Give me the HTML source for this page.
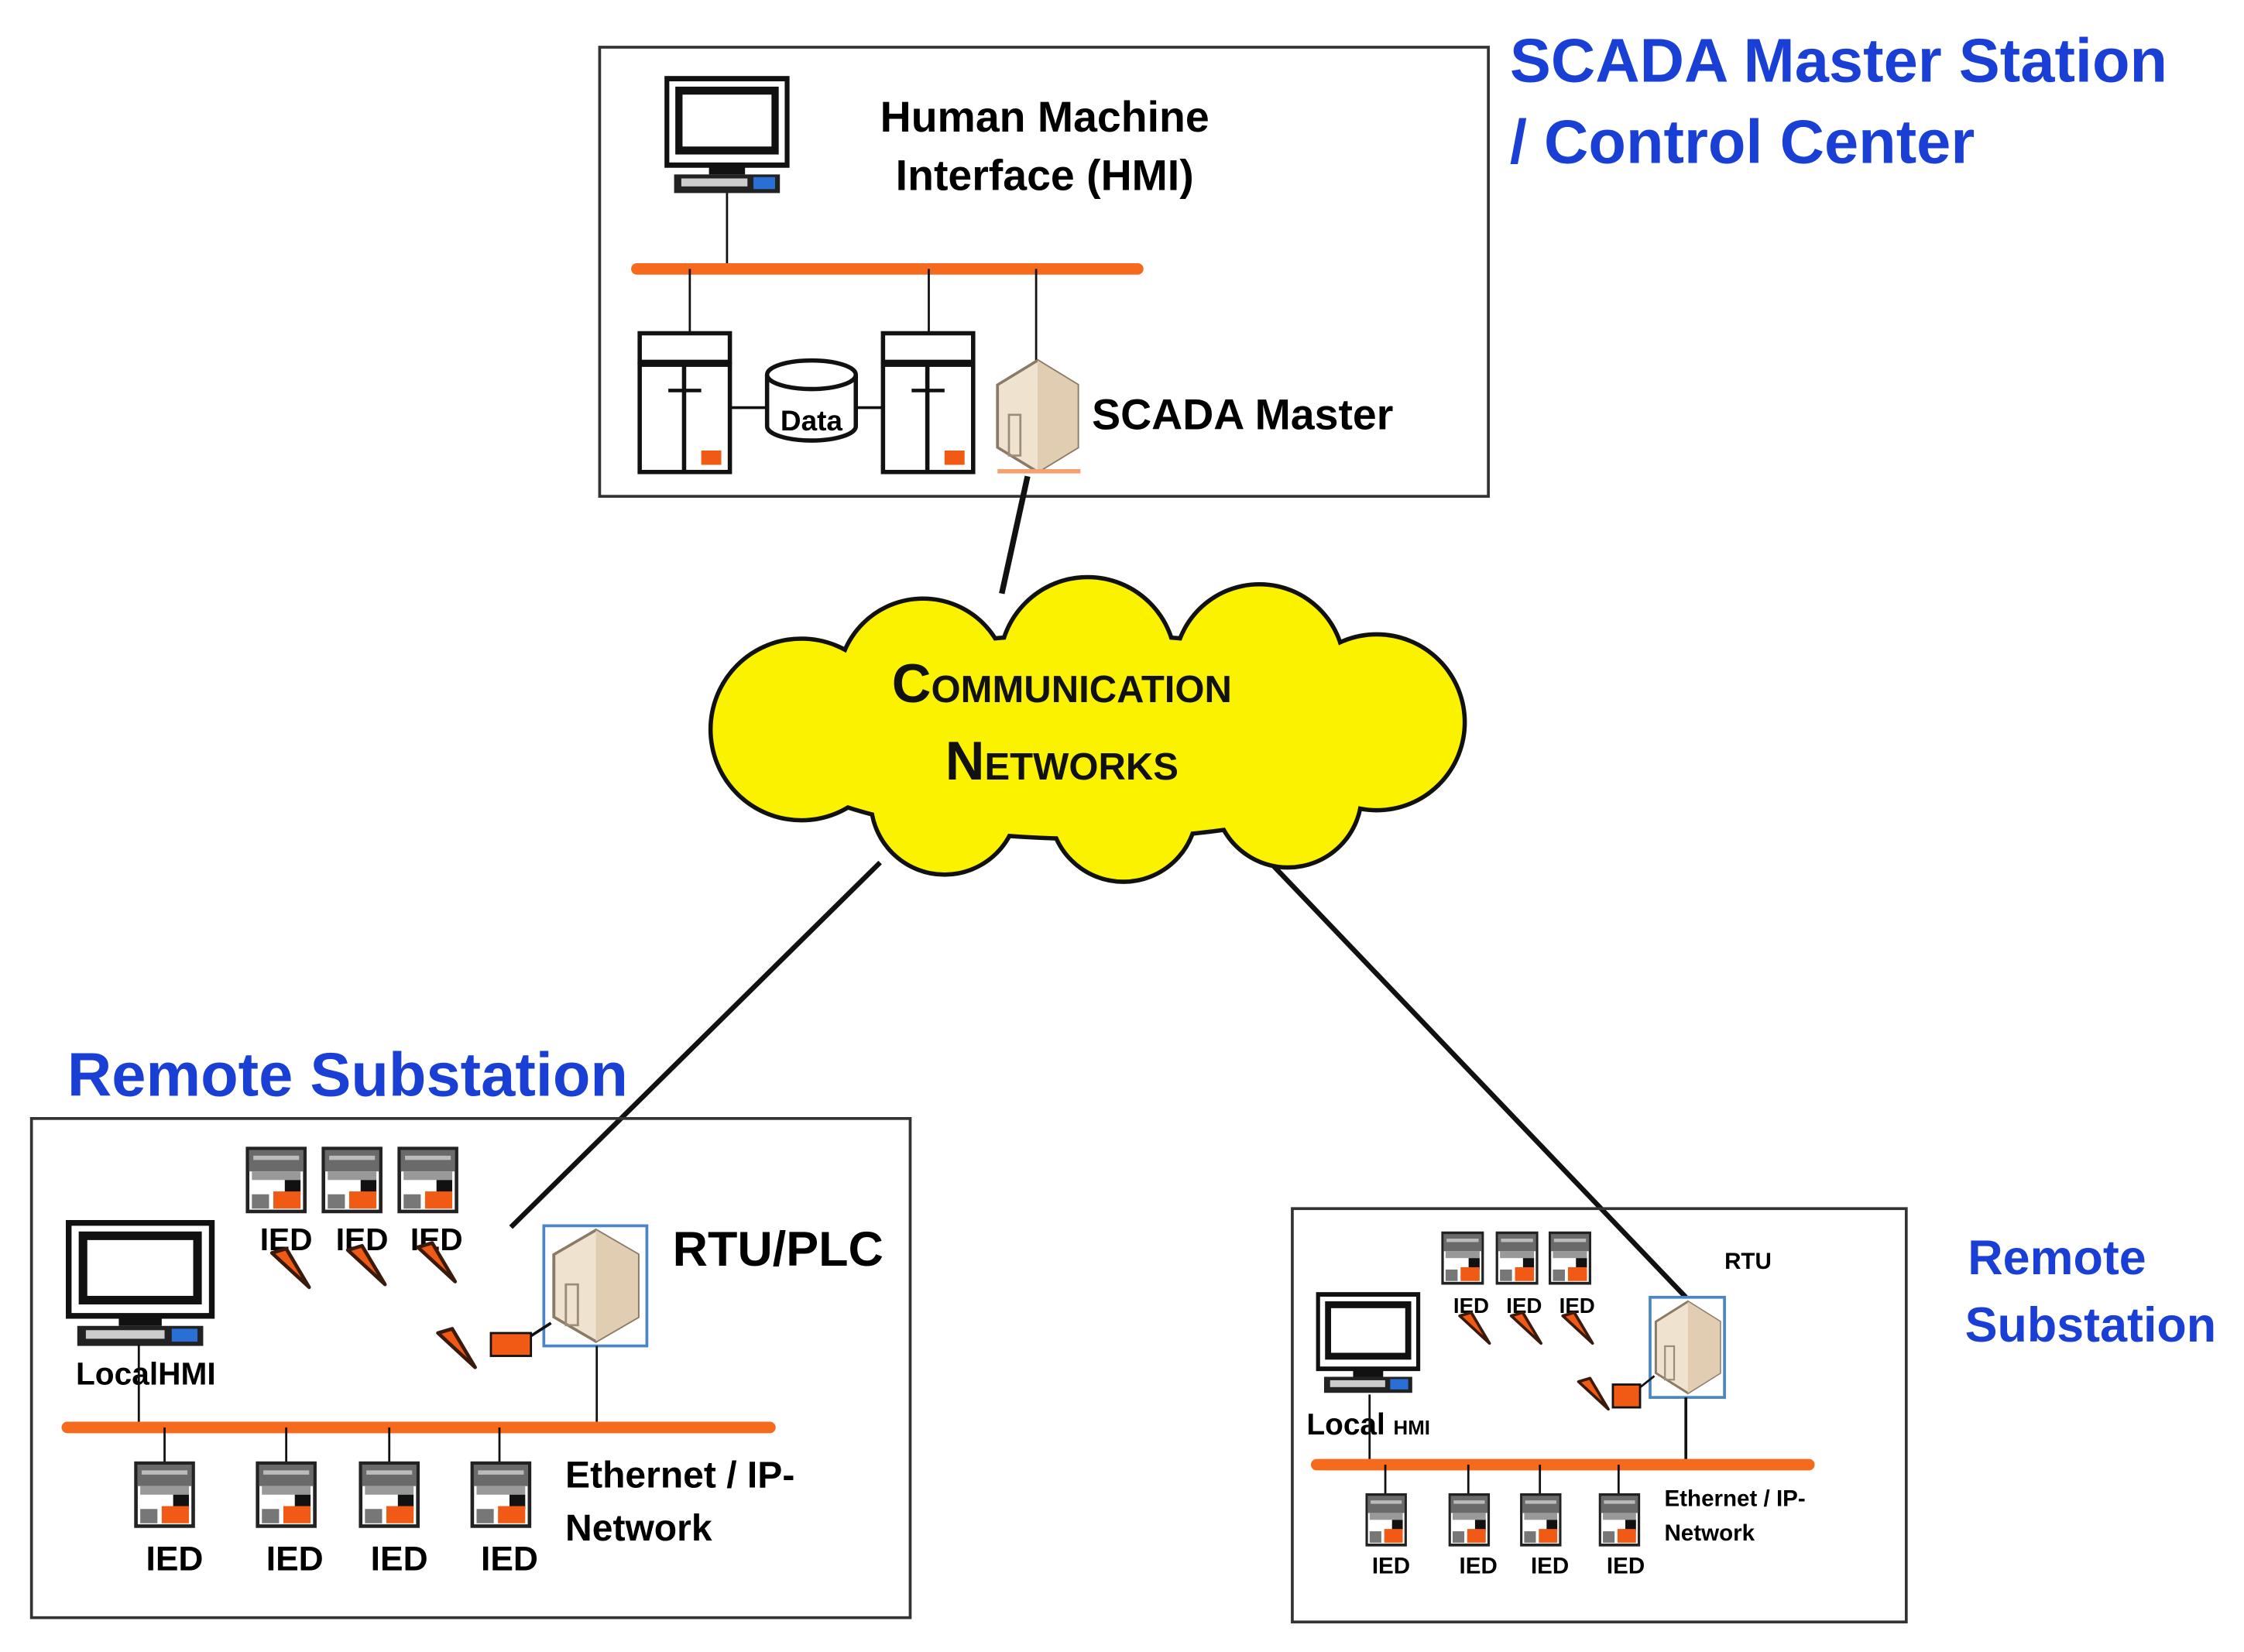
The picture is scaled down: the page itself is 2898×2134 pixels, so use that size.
<!DOCTYPE html>
<html><head><meta charset="utf-8"><style>
html,body{margin:0;padding:0;background:#fff;width:2898px;height:2134px;overflow:hidden}
svg{display:block}
text{font-family:"Liberation Sans",sans-serif;font-weight:bold}
</style></head><body>
<svg width="2898" height="2134" viewBox="0 0 1568 1155" preserveAspectRatio="none" xmlns="http://www.w3.org/2000/svg">
<defs>
 <g id="ied">
  <rect x="0" y="0" width="40" height="44" fill="#fff" stroke="#222" stroke-width="2.5"/>
  <rect x="1" y="1" width="38" height="15" fill="#6a6a6a"/>
  <rect x="4" y="5" width="32" height="3" fill="#bbb"/>
  <rect x="3" y="16" width="34" height="6" fill="#999"/>
  <rect x="26" y="22" width="11" height="10" fill="#111"/>
  <rect x="18" y="30" width="19" height="12" fill="#f05a14"/>
  <rect x="3" y="32" width="12" height="10" fill="#777"/>
 </g>
 <g id="mon">
  <rect x="0" y="0" width="100" height="65" fill="#fff" stroke="#111" stroke-width="4"/>
  <rect x="10" y="9" width="80" height="45" fill="#fff" stroke="#111" stroke-width="6"/>
  <rect x="35" y="65" width="30" height="7" fill="#111"/>
  <rect x="6" y="72" width="88" height="14" fill="#222"/>
  <rect x="12" y="75" width="55" height="6" fill="#ccc"/>
  <rect x="72" y="74" width="18" height="9" fill="#2a6fd6"/>
 </g>
 <g id="cube">
  <path d="M28 0 L56 18 L56 64 L28 82 L0 64 L0 18 Z" fill="#efe2cf" stroke="#8a7a66" stroke-width="2"/>
  <path d="M28 0 L56 18 L56 64 L28 82 Z" fill="#e0cdb2"/>
  <rect x="8" y="40" width="8" height="30" fill="none" stroke="#9c8c78" stroke-width="1.5"/>
 </g>
 <g id="bolt">
  <path d="M0 0 L10 -3 L26 24 Z" fill="#f05a14" stroke="#3a1a0a" stroke-width="2.5" stroke-linejoin="round"/>
 </g>
 <g id="server">
  <rect x="0" y="0" width="63" height="20" fill="#fff" stroke="#111" stroke-width="3"/>
  <rect x="0" y="22" width="63" height="75" fill="#fff" stroke="#111" stroke-width="3"/>
  <line x1="31" y1="22" x2="31" y2="97" stroke="#111" stroke-width="3"/>
  <line x1="20" y1="40" x2="43" y2="40" stroke="#111" stroke-width="2.5"/>
  <rect x="43" y="82" width="14" height="10" fill="#f05a14"/>
 </g>
</defs>

<rect x="419" y="33" width="621" height="314" fill="none" stroke="#333" stroke-width="2"/>
<text x="1055" y="57" font-size="43" fill="#1a3fd4">SCADA Master Station</text>
<text x="1055" y="114" font-size="43" fill="#1a3fd4">/ Control Center</text>
<g transform="translate(466,55) scale(0.84,0.93)"><use href="#mon"/></g>
<text x="730" y="92" font-size="30" text-anchor="middle">Human Machine</text>
<text x="730" y="133" font-size="30" text-anchor="middle">Interface (HMI)</text>
<line x1="508" y1="135" x2="508" y2="188" stroke="#111" stroke-width="1.5"/>
<line x1="445" y1="188" x2="795" y2="188" stroke="#f56a1c" stroke-width="8" stroke-linecap="round"/>
<line x1="482" y1="188" x2="482" y2="233" stroke="#111" stroke-width="1.5"/>
<line x1="649" y1="188" x2="649" y2="233" stroke="#111" stroke-width="1.5"/>
<line x1="724" y1="188" x2="724" y2="252" stroke="#111" stroke-width="1.5"/>
<g transform="translate(447,233)"><use href="#server"/></g>
<g transform="translate(617,233)"><use href="#server"/></g>
<line x1="510" y1="285" x2="536" y2="285" stroke="#111" stroke-width="2"/>
<line x1="597" y1="285" x2="617" y2="285" stroke="#111" stroke-width="2"/>
<path d="M536 262 L536 298 A31 10 0 0 0 598 298 L598 262" fill="#fff" stroke="#111" stroke-width="3"/>
<ellipse cx="567" cy="262" rx="31" ry="10" fill="#fff" stroke="#111" stroke-width="3"/>
<text x="567" y="301" font-size="20" text-anchor="middle">Data</text>
<g transform="translate(697,252) scale(1,0.95)"><use href="#cube"/></g>
<rect x="697" y="328" width="58" height="3" fill="#f5a070"/>
<text x="763" y="300" font-size="30">SCADA Master</text>

<line x1="718" y1="333" x2="700" y2="415" stroke="#111" stroke-width="4"/>
<line x1="615" y1="603" x2="357" y2="858" stroke="#111" stroke-width="3.5"/>
<line x1="878" y1="593" x2="1178" y2="907" stroke="#111" stroke-width="3.5"/>

<g stroke="#111" stroke-width="6" fill="#fbf200">
 <circle cx="560" cy="510" r="62"/><circle cx="645" cy="478" r="58"/><circle cx="760" cy="465" r="60"/>
 <circle cx="880" cy="468" r="58"/><circle cx="962" cy="505" r="60"/><circle cx="900" cy="555" r="50"/>
 <circle cx="785" cy="565" r="50"/><circle cx="660" cy="560" r="50"/><ellipse cx="760" cy="515" rx="230" ry="70"/>
</g>
<g fill="#fbf200">
 <circle cx="560" cy="510" r="62"/><circle cx="645" cy="478" r="58"/><circle cx="760" cy="465" r="60"/>
 <circle cx="880" cy="468" r="58"/><circle cx="962" cy="505" r="60"/><circle cx="900" cy="555" r="50"/>
 <circle cx="785" cy="565" r="50"/><circle cx="660" cy="560" r="50"/><ellipse cx="760" cy="515" rx="230" ry="70"/>
</g>
<text x="742" y="491" font-size="38" text-anchor="middle" font-variant="small-caps" fill="#111">Communication</text>
<text x="742" y="545" font-size="38" text-anchor="middle" font-variant="small-caps" fill="#111">Networks</text>

<text x="47" y="766" font-size="43" fill="#1a3fd4">Remote  Substation</text>
<rect x="22" y="782" width="614" height="349" fill="none" stroke="#333" stroke-width="2"/>
<g transform="translate(173,803)"><use href="#ied"/></g>
<g transform="translate(226,803)"><use href="#ied"/></g>
<g transform="translate(279,803)"><use href="#ied"/></g>
<text x="200" y="874" font-size="22" text-anchor="middle">IED</text>
<text x="253" y="874" font-size="22" text-anchor="middle">IED</text>
<text x="305" y="874" font-size="22" text-anchor="middle">IED</text>
<g transform="translate(190,876)"><use href="#bolt"/></g>
<g transform="translate(243,874)"><use href="#bolt"/></g>
<g transform="translate(292,872)"><use href="#bolt"/></g>
<g transform="translate(306,932)"><use href="#bolt"/></g>
<g transform="translate(48,855)"><use href="#mon"/></g>
<text x="53" y="968" font-size="22">LocalHMI</text>
<rect x="380" y="857" width="72" height="84" fill="#fff" stroke="#4a86c6" stroke-width="2"/>
<g transform="translate(387,860) scale(1.05,0.95)"><use href="#cube"/></g>
<text x="470" y="885" font-size="34">RTU/PLC</text>
<rect x="343" y="932" width="28" height="16" fill="#f05a14" stroke="#111" stroke-width="1.5"/>
<line x1="371" y1="934" x2="385" y2="925" stroke="#111" stroke-width="2"/>
<line x1="97" y1="940" x2="97" y2="998" stroke="#111" stroke-width="1.5"/>
<line x1="417" y1="941" x2="417" y2="998" stroke="#111" stroke-width="1.5"/>
<line x1="47" y1="998" x2="538" y2="998" stroke="#f56a1c" stroke-width="8" stroke-linecap="round"/>
<g stroke="#111" stroke-width="1.5">
 <line x1="115" y1="998" x2="115" y2="1023"/><line x1="200" y1="998" x2="200" y2="1023"/>
 <line x1="272" y1="998" x2="272" y2="1023"/><line x1="349" y1="998" x2="349" y2="1023"/>
</g>
<g transform="translate(95,1023)"><use href="#ied"/></g>
<g transform="translate(180,1023)"><use href="#ied"/></g>
<g transform="translate(252,1023)"><use href="#ied"/></g>
<g transform="translate(330,1023)"><use href="#ied"/></g>
<text x="122" y="1098" font-size="24" text-anchor="middle">IED</text>
<text x="206" y="1098" font-size="24" text-anchor="middle">IED</text>
<text x="279" y="1098" font-size="24" text-anchor="middle">IED</text>
<text x="356" y="1098" font-size="24" text-anchor="middle">IED</text>
<text x="395" y="1040" font-size="26">Ethernet / IP-</text>
<text x="395" y="1077" font-size="26">Network</text>

<text x="1375" y="891" font-size="34" fill="#1a3fd4">Remote</text>
<text x="1373" y="938" font-size="34" fill="#1a3fd4">Substation</text>
<rect x="903" y="845" width="429" height="289" fill="none" stroke="#333" stroke-width="2"/>
<g transform="translate(1008,862) scale(0.7,0.8)"><use href="#ied"/></g>
<g transform="translate(1046,862) scale(0.7,0.8)"><use href="#ied"/></g>
<g transform="translate(1083,862) scale(0.7,0.8)"><use href="#ied"/></g>
<text x="1028" y="918" font-size="15" text-anchor="middle">IED</text>
<text x="1065" y="918" font-size="15" text-anchor="middle">IED</text>
<text x="1102" y="918" font-size="15" text-anchor="middle">IED</text>
<g transform="translate(1020,920) scale(0.8)"><use href="#bolt"/></g>
<g transform="translate(1056,920) scale(0.8)"><use href="#bolt"/></g>
<g transform="translate(1092,920) scale(0.8)"><use href="#bolt"/></g>
<g transform="translate(1103,966) scale(0.8)"><use href="#bolt"/></g>
<text x="1205" y="887" font-size="16">RTU</text>
<rect x="1153" y="907" width="52" height="70" fill="#fff" stroke="#4a86c6" stroke-width="2"/>
<g transform="translate(1157,910) scale(0.8,0.78)"><use href="#cube"/></g>
<rect x="1127" y="968" width="19" height="16" fill="#f05a14" stroke="#111" stroke-width="1.5"/>
<line x1="1146" y1="970" x2="1156" y2="962" stroke="#111" stroke-width="1.5"/>
<g transform="translate(921,905) scale(0.7,0.8)"><use href="#mon"/></g>
<text x="913" y="1003" font-size="21">Local <tspan font-size="14">HMI</tspan></text>
<line x1="957" y1="975" x2="957" y2="1024" stroke="#111" stroke-width="1.5"/>
<line x1="1178" y1="977" x2="1178" y2="1024" stroke="#111" stroke-width="2"/>
<line x1="920" y1="1024" x2="1264" y2="1024" stroke="#f56a1c" stroke-width="8" stroke-linecap="round"/>
<g stroke="#111" stroke-width="1.5">
 <line x1="968" y1="1024" x2="968" y2="1045"/><line x1="1026" y1="1024" x2="1026" y2="1045"/>
 <line x1="1076" y1="1024" x2="1076" y2="1045"/><line x1="1131" y1="1024" x2="1131" y2="1045"/>
</g>
<g transform="translate(955,1045) scale(0.68,0.8)"><use href="#ied"/></g>
<g transform="translate(1013,1045) scale(0.68,0.8)"><use href="#ied"/></g>
<g transform="translate(1063,1045) scale(0.68,0.8)"><use href="#ied"/></g>
<g transform="translate(1118,1045) scale(0.68,0.8)"><use href="#ied"/></g>
<text x="972" y="1100" font-size="16" text-anchor="middle">IED</text>
<text x="1033" y="1100" font-size="16" text-anchor="middle">IED</text>
<text x="1083" y="1100" font-size="16" text-anchor="middle">IED</text>
<text x="1136" y="1100" font-size="16" text-anchor="middle">IED</text>
<text x="1163" y="1053" font-size="16">Ethernet / IP-</text>
<text x="1163" y="1077" font-size="16">Network</text>
</svg>
</body></html>
